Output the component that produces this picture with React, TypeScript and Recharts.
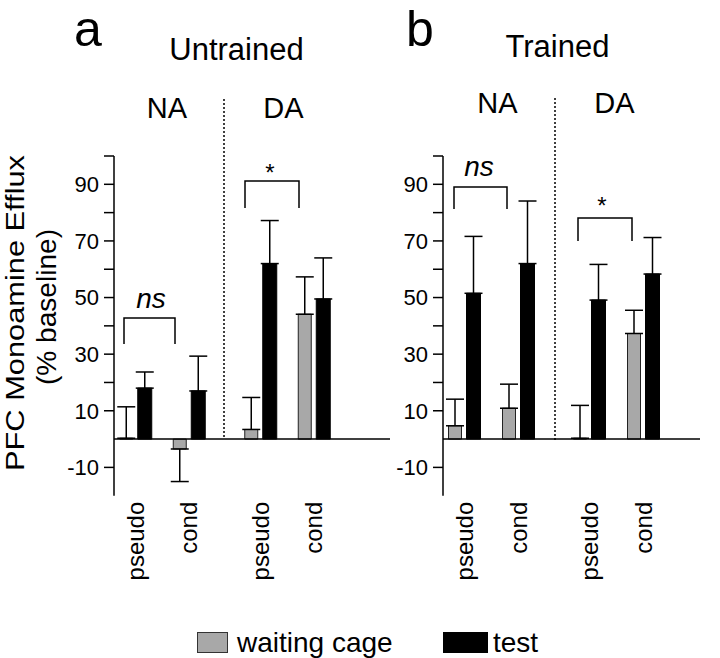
import React from 'react';
import { BarChart, Bar, XAxis, YAxis, ReferenceLine, ErrorBar } from 'recharts';

const FONT = '"Liberation Sans", Arial, Helvetica, sans-serif';

// ---- data ----
const categories = ['pseudo', 'cond'];

const untrainedNAWait = [0.3, -3.5];
const untrainedNAWaitErr = [11.1, 11.5];
const untrainedNATest = [18, 17];
const untrainedNATestErr = [5.7, 12.3];

const untrainedDAWait = [3.4, 44.1];
const untrainedDAWaitErr = [11.3, 13.2];
const untrainedDATest = [62, 49.5];
const untrainedDATestErr = [15.2, 14.5];

const trainedNAWait = [4.7, 10.9];
const trainedNAWaitErr = [9.4, 8.5];
const trainedNATest = [51.5, 62];
const trainedNATestErr = [20.1, 22.1];

const trainedDAWait = [0.3, 37.3];
const trainedDAWaitErr = [11.6, 8.2];
const trainedDATest = [49.1, 58.3];
const trainedDATestErr = [12.6, 12.9];

const yTicks = [-10, 10, 20, 30, 40, 50, 60, 70, 80, 90, 100];
const yLabelTicks = [90, 70, 50, 30, 10, -10];

const GRAY = '#a8a8a8';

const oneSided = (v: number, e: number) => (v >= 0 ? [0, e] : [e, 0]);

function buildRows(wait: number[], waitErr: number[], test: number[], testErr: number[]) {
  return categories.map((c, i) => ({
    cat: c,
    wait: wait[i],
    waitErr: oneSided(wait[i], waitErr[i]),
    test: test[i],
    testErr: oneSided(test[i], testErr[i]),
  }));
}

const rowsUNA = buildRows(untrainedNAWait, untrainedNAWaitErr, untrainedNATest, untrainedNATestErr);
const rowsUDA = buildRows(untrainedDAWait, untrainedDAWaitErr, untrainedDATest, untrainedDATestErr);
const rowsTNA = buildRows(trainedNAWait, trainedNAWaitErr, trainedNATest, trainedNATestErr);
const rowsTDA = buildRows(trainedDAWait, trainedDAWaitErr, trainedDATest, trainedDATestErr);

function CatTick(props: any) {
  const { x, y, payload } = props;
  const ty = y + 6;
  return (
    <text
      x={x}
      y={ty}
      transform={`rotate(-90 ${x} ${ty})`}
      textAnchor="end"
      dominantBaseline="central"
      fontSize={24}
      fontFamily={FONT}
      fill="#000"
    >
      {payload.value}
    </text>
  );
}

type SubProps = {
  rows: any[];
  plotLeft: number;
  plotWidth: number;
  padL: number;
  padR: number;
  showY: boolean;
};

function SubChart({ rows, plotLeft, plotWidth, padL, padR, showY }: SubProps) {
  const yW = showY ? 80 : 0;
  return (
    <div style={{ position: 'absolute', left: plotLeft - yW, top: 0 }}>
      <BarChart
        width={plotWidth + yW}
        height={600}
        data={rows}
        margin={{ top: 156, right: 0, bottom: 0, left: 0 }}
        barGap={5}
      >
        <XAxis
          dataKey="cat"
          type="category"
          interval={0}
          axisLine={false}
          tickLine={false}
          tickSize={0}
          tickMargin={0}
          height={104.3}
          padding={{ left: padL, right: padR }}
          tick={<CatTick />}
        />
        <YAxis
          type="number"
          domain={[-20, 100]}
          ticks={yTicks}
          interval={0}
          hide={!showY}
          width={yW}
          axisLine={{ stroke: '#000', strokeWidth: 1.5 }}
          tickLine={{ stroke: '#000', strokeWidth: 1.5 }}
          tickSize={10}
          tickMargin={5}
          tick={{ fill: '#000', fontSize: 22, fontFamily: FONT }}
          tickFormatter={(v: number) => (yLabelTicks.includes(v) ? String(v) : '')}
        />
        <ReferenceLine y={0} stroke="#000" strokeWidth={1.5} />
        <Bar dataKey="wait" barSize={13} fill={GRAY} stroke="#222" strokeWidth={1} isAnimationActive={false}>
          <ErrorBar dataKey="waitErr" width={9} stroke="#000" strokeWidth={1.5} direction="y" />
        </Bar>
        <Bar dataKey="test" barSize={14} fill="#000" stroke="#000" strokeWidth={1} isAnimationActive={false}>
          <ErrorBar dataKey="testErr" width={9} stroke="#000" strokeWidth={1.5} direction="y" />
        </Bar>
      </BarChart>
    </div>
  );
}

function Overlay() {
  const t = { fontFamily: FONT, fill: '#000' } as const;
  const br = { fill: 'none', stroke: '#000', strokeWidth: 1.5 } as const;
  return (
    <svg
      width={720}
      height={658}
      style={{ position: 'absolute', left: 0, top: 0, pointerEvents: 'none' }}
    >
      {/* panel letters and titles */}
      <text x={74} y={46} fontSize={50} {...t}>a</text>
      <text x={406} y={46} fontSize={50} {...t}>b</text>
      <text x={236.5} y={60} fontSize={31} textAnchor="middle" {...t}>Untrained</text>
      <text x={557.5} y={57} fontSize={31} textAnchor="middle" {...t}>Trained</text>

      <text x={167} y={118} fontSize={29} textAnchor="middle" {...t}>NA</text>
      <text x={283.5} y={118} fontSize={29} textAnchor="middle" {...t}>DA</text>
      <text x={497.5} y={113} fontSize={29} textAnchor="middle" {...t}>NA</text>
      <text x={614.5} y={113} fontSize={29} textAnchor="middle" {...t}>DA</text>

      {/* dividers */}
      <line x1={224} y1={99} x2={224} y2={439} stroke="#000" strokeWidth={1.5} strokeDasharray="2 2" />
      <line x1={555} y1={98} x2={555} y2={440} stroke="#000" strokeWidth={1.5} strokeDasharray="2 2" />

      {/* brackets */}
      <path d="M124 344 V318 H175 V344" {...br} />
      <text x={151} y={308} fontSize={28} fontStyle="italic" textAnchor="middle" {...t}>ns</text>
      <path d="M245 208 V181 H299 V208" {...br} />
      <text x={270} y={181} fontSize={24} textAnchor="middle" {...t}>*</text>

      <path d="M454 209 V187 H507 V209" {...br} />
      <text x={479} y={176} fontSize={28} fontStyle="italic" textAnchor="middle" {...t}>ns</text>
      <path d="M578 241 V218 H632 V241" {...br} />
      <text x={602} y={214} fontSize={24} textAnchor="middle" {...t}>*</text>

      {/* y label */}
      <text
        x={24}
        y={313}
        fontSize={26}
        textAnchor="middle"
        textLength={316}
        lengthAdjust="spacingAndGlyphs"
        transform="rotate(-90 24 313)"
        {...t}
      >
        PFC Monoamine Efflux
      </text>
      <text
        x={56}
        y={307}
        fontSize={27}
        textAnchor="middle"
        textLength={156}
        lengthAdjust="spacingAndGlyphs"
        transform="rotate(-90 56 307)"
        {...t}
      >
        (% baseline)
      </text>

      {/* legend */}
      <rect x={197.5} y={632.5} width={30} height={20} fill={GRAY} stroke="#333" strokeWidth={1} />
      <text x={237} y={652} fontSize={28} {...t}>waiting cage</text>
      <rect x={443} y={632} width={45} height={21} fill="#000" />
      <text x={493} y={652} fontSize={28} {...t}>test</text>
    </svg>
  );
}

export default function App() {
  return (
    <div style={{ position: 'absolute', left: 0, top: 0, width: 720, height: 658, background: '#fff', overflow: 'hidden' }}>
      <SubChart rows={rowsUNA} plotLeft={114} plotWidth={110} padL={-5.25} padR={8.25} showY={true} />
      <SubChart rows={rowsUDA} plotLeft={224} plotWidth={166} padL={9.75} padR={49.25} showY={false} />
      <SubChart rows={rowsTNA} plotLeft={443} plotWidth={112} padL={-5.5} padR={9.5} showY={true} />
      <SubChart rows={rowsTDA} plotLeft={555} plotWidth={145} padL={7.5} padR={29.5} showY={false} />
      <Overlay />
    </div>
  );
}
